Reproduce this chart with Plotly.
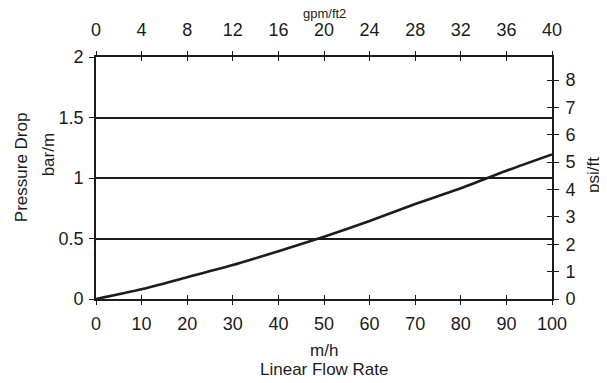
import plotly.graph_objects as go

# Data
flow_rate_mh = [0, 10, 20, 30, 40, 50, 60, 70, 80, 90, 100]
pressure_drop_bar_m = [0, 0.08, 0.18, 0.28, 0.395, 0.515, 0.645, 0.785, 0.915, 1.06, 1.195]

x_ticks = [0, 10, 20, 30, 40, 50, 60, 70, 80, 90, 100]
top_ticks = [0, 4, 8, 12, 16, 20, 24, 28, 32, 36, 40]
left_ticks = [0, 0.5, 1, 1.5, 2]
left_tick_text = ["0", "0.5", "1", "1.5", "2"]
right_ticks = [0, 1, 2, 3, 4, 5, 6, 7, 8]

PSI_PER_BAR_M = 14.5038 / 3.28084
Y_MAX = 2
Y2_MAX = Y_MAX * PSI_PER_BAR_M

INK = "#1c1c1c"
FONT = "Liberation Sans, Arial, sans-serif"
FS = 18
FS_T = 17

# page body has an 8px margin; plot area wanted at window x 96..552, y 53..299
OFF = 8
W, H = 607 - OFF, 383 - OFF
PL, PT, PW, PH = 96, 53, 456, 246
L, T = PL - OFF, PT - OFF
R, B = W - L - PW, H - T - PH


def px_to_paper_x(px):
    return (px - PL) / PW


def px_to_paper_y(py):
    return (PT + PH - py) / PH


fig = go.Figure()
fig.add_trace(go.Scatter(
    x=flow_rate_mh, y=pressure_drop_bar_m, mode="lines",
    line=dict(color=INK, width=2.6, shape="spline", smoothing=0.6),
    xaxis="x", yaxis="y", showlegend=False, hoverinfo="skip"))
for k in ("2", "3", "4"):
    fig.add_trace(go.Scatter(x=[], y=[], xaxis="x" + k, yaxis="y" + k,
                             showlegend=False, hoverinfo="skip"))

common = dict(showline=False, zeroline=False, showgrid=False,
              tickcolor=INK, tickwidth=1.4,
              tickfont=dict(family=FONT, size=FS, color=INK))

fig.update_layout(
    width=W, height=H,
    margin=dict(l=L, r=R, t=T, b=B),
    paper_bgcolor="white", plot_bgcolor="white",
    font=dict(family=FONT, size=FS, color=INK),
    xaxis=dict(common, range=[0, 100], tickvals=x_ticks, side="bottom", anchor="y",
               ticks="outside", ticklen=4, showline=True, linecolor=INK, linewidth=1.6,
               ticklabelstandoff=4),
    xaxis2=dict(common, range=[0, 40], tickvals=top_ticks, side="top", anchor="y",
                overlaying="x", ticks="outside", ticklen=4, showline=True,
                linecolor=INK, linewidth=1.6, ticklabelstandoff=8),
    xaxis3=dict(common, range=[0, 100], tickvals=x_ticks, side="bottom", anchor="y",
                overlaying="x", ticks="inside", ticklen=4, showticklabels=False),
    xaxis4=dict(common, range=[0, 40], tickvals=top_ticks, side="top", anchor="y",
                overlaying="x", ticks="inside", ticklen=4, showticklabels=False),
    yaxis=dict(common, range=[0, Y_MAX], tickvals=left_ticks, ticktext=left_tick_text,
               side="left", anchor="x", ticks="outside", ticklen=5, showline=True,
               linecolor=INK, linewidth=1.6, showgrid=True, gridcolor=INK, gridwidth=1.5,
               ticklabelstandoff=2),
    yaxis2=dict(common, range=[0, Y2_MAX], tickvals=right_ticks, side="right", anchor="x",
                overlaying="y", ticks="outside", ticklen=5, showline=True,
                linecolor=INK, linewidth=1.6, ticklabelstandoff=3),
    yaxis3=dict(common, range=[0, Y_MAX], tickvals=left_ticks, side="left", anchor="x",
                overlaying="y", ticks="inside", ticklen=4, showticklabels=False),
    yaxis4=dict(common, range=[0, Y2_MAX], tickvals=right_ticks, side="right", anchor="x",
                overlaying="y", ticks="inside", ticklen=5, showticklabels=False),
)

annos = [
    ("Pressure Drop", 21, 165, -90, FS_T),
    ("bar/m", 48, 153, -90, FS_T),
    ("psi/ft", 593, 173, -90, FS_T),
    ("m/h", 324, 351, 0, FS_T),
    ("Linear Flow Rate", 324, 371, 0, FS_T),
    ("gpm/ft2", 324, 8.5, 0, 13),
]
for text, px, py, ang, size in annos:
    fig.add_annotation(text=text, xref="paper", yref="paper",
                       x=px_to_paper_x(px), y=px_to_paper_y(py),
                       xanchor="center", yanchor="middle", textangle=ang,
                       showarrow=False, font=dict(family=FONT, size=size, color=INK))

fig.write_html("out.html")
